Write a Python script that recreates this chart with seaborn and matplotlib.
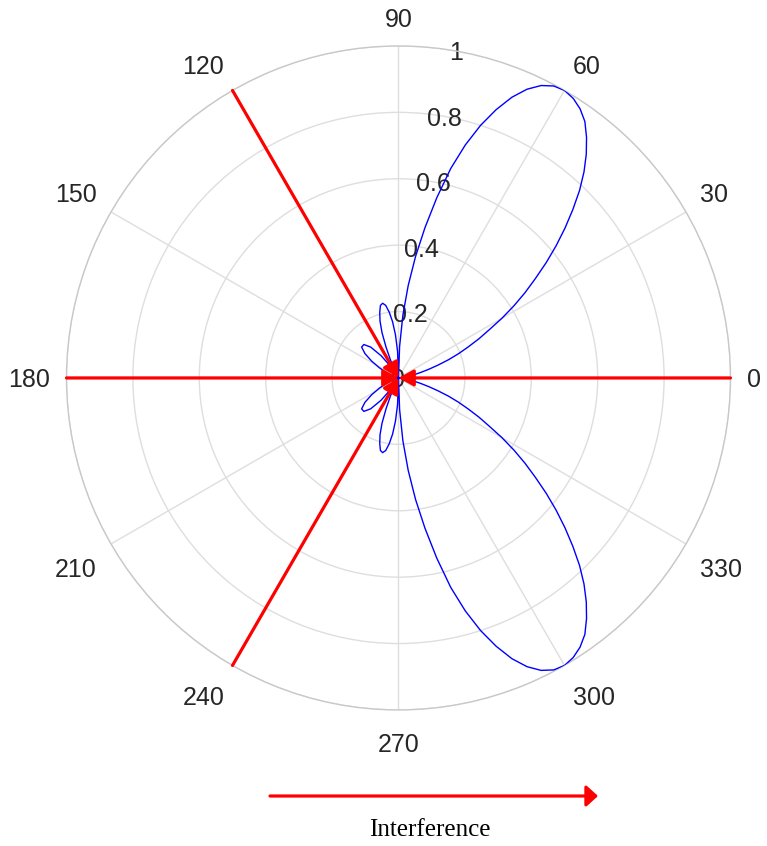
import numpy as np
import matplotlib
matplotlib.use("Agg")
import matplotlib.pyplot as plt
import matplotlib.transforms as mtransforms
import seaborn as sns

# ---- data ----
beam_deg = [0, 2, 4, 6, 8, 10, 12, 14, 16, 18, 20, 22, 24, 26, 28, 30, 32, 34, 36, 38,
            40, 42, 44, 46, 48, 50, 52, 54, 56, 58, 60, 62, 64, 66, 68, 70, 72, 74, 76, 78,
            80, 82, 84, 86, 88, 90, 92, 94, 96, 98, 100, 102, 104, 106, 108, 110, 112, 114,
            116, 118, 120, 124, 128, 132, 136, 140, 144, 148, 152, 156, 160, 164, 168, 172,
            176, 180, 184, 188, 192, 196, 200, 204, 208, 212, 216, 220, 224, 228, 232, 236,
            240, 242, 244, 246, 248, 250, 252, 254, 256, 258, 260, 262, 264, 266, 268, 270,
            272, 274, 276, 278, 280, 282, 284, 286, 288, 290, 292, 294, 296, 298, 300, 302,
            304, 306, 308, 310, 312, 314, 316, 318, 320, 322, 324, 326, 328, 330, 332, 334,
            336, 338, 340, 342, 344, 346, 348, 350, 352, 354, 356, 358, 360]
beam_gain = [0, 0.001, 0.005, 0.01, 0.02, 0.035, 0.05, 0.07, 0.095, 0.125, 0.16, 0.195,
             0.23, 0.27, 0.31, 0.36, 0.41, 0.46, 0.51, 0.565, 0.62, 0.675, 0.73, 0.785,
             0.835, 0.88, 0.92, 0.955, 0.978, 0.993, 1.0, 0.996, 0.98, 0.952, 0.912, 0.86,
             0.8, 0.73, 0.65, 0.555, 0.46, 0.37, 0.28, 0.19, 0.095, 0, 0.08, 0.13, 0.17,
             0.2, 0.222, 0.23, 0.225, 0.205, 0.18, 0.145, 0.1, 0.06, 0.03, 0.01, 0,
             0.04, 0.085, 0.125, 0.145, 0.145, 0.125, 0.095, 0.065, 0.04, 0.02, 0.008,
             0.002, 0, 0, 0,
             0, 0, 0.002, 0.008, 0.02, 0.04, 0.065, 0.095, 0.125, 0.145, 0.145, 0.125,
             0.085, 0.04, 0,
             0.01, 0.03, 0.06, 0.1, 0.145, 0.18, 0.205, 0.225, 0.23, 0.222, 0.2, 0.17,
             0.13, 0.08, 0, 0.095, 0.19, 0.28, 0.37, 0.46, 0.555, 0.65, 0.73, 0.8, 0.86,
             0.912, 0.952, 0.98, 0.996, 1.0, 0.993, 0.978, 0.955, 0.92, 0.88, 0.835, 0.785,
             0.73, 0.675, 0.62, 0.565, 0.51, 0.46, 0.41, 0.36, 0.31, 0.27, 0.23, 0.195,
             0.16, 0.125, 0.095, 0.07, 0.05, 0.035, 0.02, 0.01, 0.005, 0.001, 0]
interference_deg = [0, 120, 180, 240]
theta_ticks = [0, 30, 60, 90, 120, 150, 180, 210, 240, 270, 300, 330]
r_ticks = [0, 0.2, 0.4, 0.6, 0.8, 1.0]
r_tick_labels = ["0", "0.2", "0.4", "0.6", "0.8", "1"]
legend_label = "Interference"

# ---- style ----
sns.set_style("white")
plt.rcParams["font.family"] = ["Liberation Sans", "DejaVu Sans"]
TXT = "#262626"
GRID = "#dedede"

fig = plt.figure(figsize=(7.67, 8.46), dpi=100)
ax = fig.add_axes([0.0867, 0.1608, 0.8657, 0.7849], projection="polar")

sns.lineplot(x=np.deg2rad(beam_deg), y=beam_gain, ax=ax, color="#0000ff",
             lw=1.0, sort=False, estimator=None, zorder=3)

ax.set_ylim(0, 1)
ax.set_yticks(r_ticks)
ax.set_yticklabels([])
ax.set_xticks(np.deg2rad(theta_ticks))
ax.set_xticklabels([])
ax.grid(True, color=GRID, lw=1.0)
ax.spines["polar"].set_color("#c8c8c8")
ax.spines["polar"].set_linewidth(1.0)
ax.set_xlabel("")
ax.set_ylabel("")

# theta labels, MATLAB-like placement
up_tr = mtransforms.offset_copy(ax.transData, fig=fig, x=0, y=2, units="dots")
down_tr = mtransforms.offset_copy(ax.transData, fig=fig, x=0, y=-6, units="dots")
for t in theta_ticks:
    c, s = np.cos(np.deg2rad(t)), np.sin(np.deg2rad(t))
    ha = "left" if c > 0.01 else ("right" if c < -0.01 else "center")
    if s > 0.01:
        va, tr = "baseline", up_tr
    elif s < -0.01:
        va, tr = "top", down_tr
    else:
        va, tr = "center_baseline", ax.transData
    ax.text(np.deg2rad(t), 1.05, str(t), ha=ha, va=va, fontsize=18, color=TXT,
            clip_on=False, transform=tr)

for r, lab in zip(r_ticks, r_tick_labels):
    ax.text(np.deg2rad(80), r, lab, ha="center", va="center_baseline", fontsize=18,
            color=TXT, zorder=2)

for a in interference_deg:
    ax.annotate("", xy=(np.deg2rad(a), 0), xytext=(np.deg2rad(a), 1.0),
                arrowprops=dict(arrowstyle="-|>,head_length=0.45,head_width=0.25",
                                color="red", lw=2.3, mutation_scale=20,
                                shrinkA=0, shrinkB=0),
                zorder=5, annotation_clip=False)

# legend-like arrow and label at bottom
fig.patches.append(matplotlib.patches.FancyArrowPatch(
    (270 / 767, 50 / 846), (598 / 767, 50 / 846), transform=fig.transFigure,
    arrowstyle="-|>,head_length=0.35,head_width=0.32", mutation_scale=20,
    color="red", lw=2.3, shrinkA=0, shrinkB=0))
fig.text(430 / 767, 16 / 846, legend_label, ha="center", va="center",
         fontsize=18, color="black", family=["Liberation Serif", "DejaVu Serif"])

fig.savefig("out.png", dpi=100)
